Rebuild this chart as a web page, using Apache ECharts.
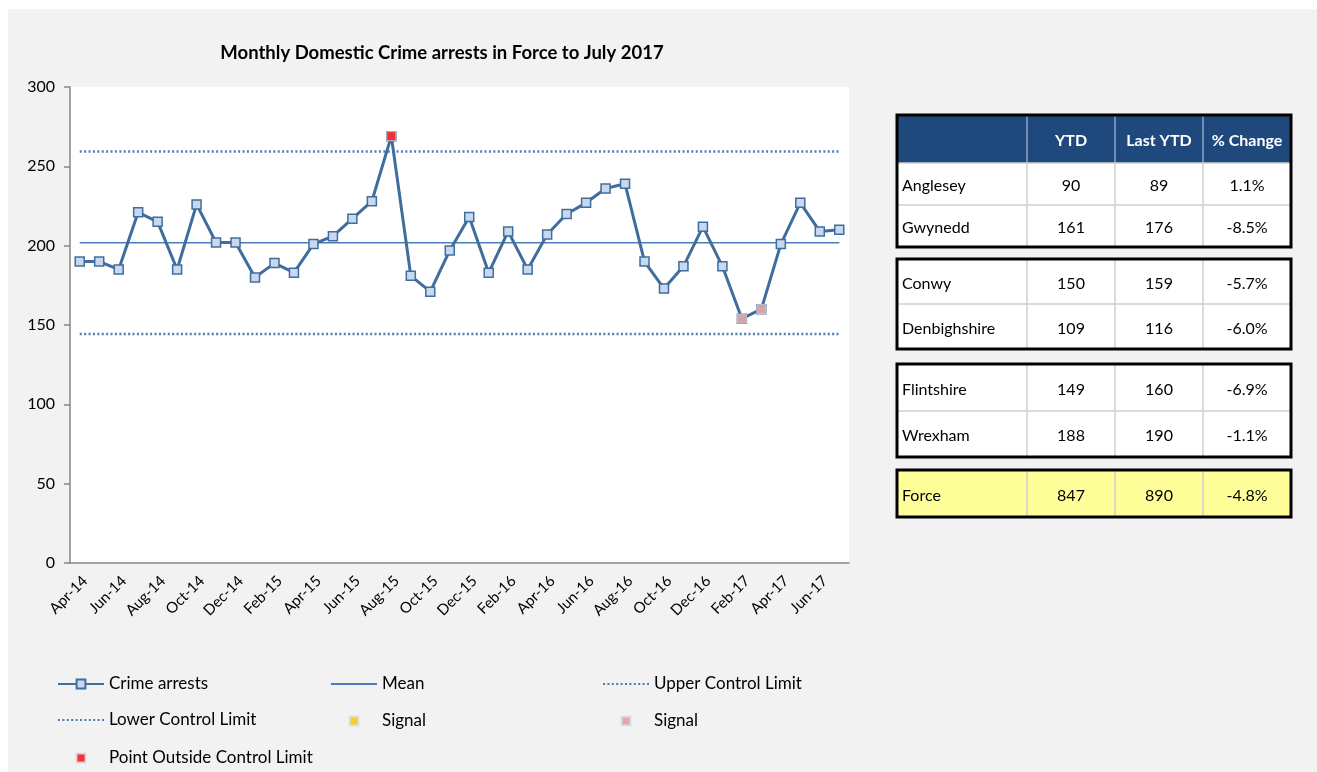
<!DOCTYPE html>
<html><head><meta charset="utf-8">
<script src="https://cdn.jsdelivr.net/npm/echarts@6/dist/echarts.min.js"></script>
<style>html,body{margin:0;padding:0;background:#fff}#c{width:1317px;height:772px}</style>
</head><body><div id="c"></div>
<script>
// ---------- data ----------
const months = ['Apr-14','May-14','Jun-14','Jul-14','Aug-14','Sep-14','Oct-14','Nov-14','Dec-14','Jan-15','Feb-15','Mar-15',
  'Apr-15','May-15','Jun-15','Jul-15','Aug-15','Sep-15','Oct-15','Nov-15','Dec-15','Jan-16','Feb-16','Mar-16',
  'Apr-16','May-16','Jun-16','Jul-16','Aug-16','Sep-16','Oct-16','Nov-16','Dec-16','Jan-17','Feb-17','Mar-17',
  'Apr-17','May-17','Jun-17','Jul-17'];
const crimeArrests = [190,190,185,221,215,185,226,202,202,180,189,183,
  201,206,217,228,269,181,171,197,218,183,209,185,
  207,220,227,236,239,190,173,187,212,187,154,160,
  201,227,209,210];
const meanValue = 201.8;
const upperControlLimit = 259.3;
const lowerControlLimit = 144.3;
const yellowSignalMonths = [];
const pinkSignalMonths = ['Feb-17','Mar-17'];
const outsideLimitMonths = ['Aug-15'];
const yAxisMin = 0, yAxisMax = 300, yAxisStep = 50;

const tableHeader = ['', 'YTD', 'Last YTD', '% Change'];
const regions = ['Anglesey','Gwynedd','Conwy','Denbighshire','Flintshire','Wrexham','Force'];
const ytd = [90,161,150,109,149,188,847];
const lastYtd = [89,176,159,116,160,190,890];
const pctChange = ['1.1%','-8.5%','-5.7%','-6.0%','-6.9%','-1.1%','-4.8%'];

// ---------- helpers ----------
const FONT = 'Lato, "Open Sans", sans-serif';
const pick = (list) => months.map((m, i) => list.includes(m) ? crimeArrests[i] : '-');
const flat = (v) => months.map(() => v);

// ---------- table graphics ----------
const colX = [897, 1027, 1115, 1203, 1291];
const blocks = [
  {top: 115, rows: [{h: 48, header: true}, {h: 42, idx: 0}, {h: 42, idx: 1}]},
  {top: 259, rows: [{h: 45, idx: 2}, {h: 45, idx: 3}]},
  {top: 364, rows: [{h: 47, idx: 4}, {h: 46, idx: 5}]},
  {top: 470, rows: [{h: 47, idx: 6, fill: '#ffff99'}]}
];
const fills = [], lines = [], borders = [], texts = [];
blocks.forEach(b => {
  let y = b.top;
  b.rows.forEach((r, ri) => {
    const fill = r.header ? '#1f497d' : (r.fill || '#ffffff');
    fills.push({type: 'rect', shape: {x: colX[0], y: y, width: colX[4] - colX[0], height: r.h}, style: {fill: fill}, silent: true});
    for (let c = 1; c < 4; c++) {
      lines.push({type: 'line', shape: {x1: colX[c], y1: y, x2: colX[c], y2: y + r.h},
        style: {stroke: r.header ? '#8ea5c4' : '#cfcfcf', lineWidth: 1.5}, silent: true});
    }
    if (ri > 0) {
      lines.push({type: 'line', shape: {x1: colX[0], y1: y, x2: colX[4], y2: y}, style: {stroke: '#cfcfcf', lineWidth: 1.5}, silent: true});
    }
    const cy = y + r.h / 2 + 2;
    if (r.header) {
      for (let c = 1; c < 4; c++) {
        texts.push({type: 'text', x: (colX[c] + colX[c + 1]) / 2, y: cy,
          style: {text: tableHeader[c], fill: '#ffffff', font: 'bold 16px ' + FONT, align: 'center', verticalAlign: 'middle'}, silent: true});
      }
    } else {
      const vals = [regions[r.idx], String(ytd[r.idx]), String(lastYtd[r.idx]), pctChange[r.idx]];
      texts.push({type: 'text', x: colX[0] + 5, y: cy,
        style: {text: vals[0], fill: '#000', font: '16px ' + FONT, align: 'left', verticalAlign: 'middle'}, silent: true});
      for (let c = 1; c < 4; c++) {
        texts.push({type: 'text', x: (colX[c] + colX[c + 1]) / 2, y: cy,
          style: {text: vals[c], fill: '#000', font: '16px ' + FONT, align: 'center', verticalAlign: 'middle'}, silent: true});
      }
    }
    y += r.h;
  });
  borders.push({type: 'rect', shape: {x: colX[0], y: b.top, width: colX[4] - colX[0], height: y - b.top},
    style: {fill: 'none', stroke: '#000', lineWidth: 3}, silent: true});
});

// ---------- chart ----------
const lineColor = '#3f6d9e';
const limitColor = '#4f7bb3';
const legendText = {fontFamily: FONT, fontSize: 17, color: '#000'};
const squareIcon = 'path://M0,0h10v10h-10z';
function legLine(name, left, cy, h, hideSymbol) {
  const o = {data: [name], left: left, top: cy - h / 2, itemWidth: 46, itemHeight: h,
    padding: 0, textStyle: legendText, selectedMode: false};
  if (hideSymbol) o.itemStyle = {opacity: 0};
  return o;
}
function legSquare(name, left, cy, h) {
  // path icon keeps its aspect and is centred in the 46px slot; the legend box starts at the square
  return {data: [{name: name, icon: squareIcon}], left: left + (46 - h) / 2, top: cy - h / 2, itemWidth: 46, itemHeight: h,
    padding: 0, textStyle: legendText, selectedMode: false};
}

const option = {
  backgroundColor: '#f2f2f2',
  animation: false,
  title: {
    text: 'Monthly Domestic Crime arrests in Force to July 2017',
    left: 437, top: 39, textAlign: 'center',
    textStyle: {fontFamily: FONT, fontSize: 18.5, fontWeight: 'bold', color: '#000'}
  },
  grid: {left: 70, top: 87, width: 779, height: 476, show: true, backgroundColor: '#ffffff', borderWidth: 0},
  legend: [
    legLine('Crime arrests', 57, 681, 11, false),
    legLine('Mean', 330, 681, 11, true),
    legLine('Upper Control Limit', 602, 681, 11, true),
    legLine('Lower Control Limit', 57, 717, 11, true),
    legSquare('Signal', 330, 717, 9),
    legSquare('Signal ', 602, 717, 9),
    legSquare('Point Outside Control Limit', 57, 754, 9)
  ],
  xAxis: {
    type: 'category', data: months, boundaryGap: true,
    axisLine: {lineStyle: {color: '#868686', width: 1.5}},
    axisTick: {show: false},
    axisLabel: {interval: 1, rotate: 45, fontFamily: FONT, fontSize: 15, color: '#000', margin: 10, verticalAlign: 'top'}
  },
  yAxis: {
    type: 'value', min: yAxisMin, max: yAxisMax, interval: yAxisStep,
    axisLine: {show: true, lineStyle: {color: '#868686', width: 1.5}},
    axisTick: {show: true, length: 6, lineStyle: {color: '#868686', width: 1.5}},
    splitLine: {show: false},
    axisLabel: {fontFamily: FONT, fontSize: 16, color: '#000', margin: 15}
  },
  series: [
    {name: 'Mean', type: 'line', data: flat(meanValue), symbol: 'none', z: 1,
      lineStyle: {color: '#4a7ebb', width: 1.5}, itemStyle: {color: '#4a7ebb'}},
    {name: 'Upper Control Limit', type: 'line', data: flat(upperControlLimit), symbol: 'none', z: 1,
      lineStyle: {color: limitColor, width: 2.5, type: [2, 2.4]}, itemStyle: {color: limitColor}},
    {name: 'Lower Control Limit', type: 'line', data: flat(lowerControlLimit), symbol: 'none', z: 1,
      lineStyle: {color: limitColor, width: 2.5, type: [2, 2.4]}, itemStyle: {color: limitColor}},
    {name: 'Crime arrests', type: 'line', data: crimeArrests, symbol: 'rect', symbolSize: 9, z: 3,
      lineStyle: {color: lineColor, width: 3},
      itemStyle: {color: '#c8d8ee', borderColor: lineColor, borderWidth: 1.5}},
    {name: 'Signal', type: 'scatter', data: pick(yellowSignalMonths), symbol: 'rect', symbolSize: 9, z: 4,
      itemStyle: {color: '#ffc000', borderColor: '#d6e0ee', borderWidth: 1}},
    {name: 'Signal ', type: 'scatter', data: pick(pinkSignalMonths), symbol: 'rect', symbolSize: 9, z: 4,
      itemStyle: {color: '#d99694', borderColor: '#d6e0ee', borderWidth: 1}},
    {name: 'Point Outside Control Limit', type: 'scatter', data: pick(outsideLimitMonths), symbol: 'rect', symbolSize: 9, z: 4,
      itemStyle: {color: '#ff0000', borderColor: '#d6e0ee', borderWidth: 1}}
  ],
  graphic: [
    {type: 'rect', shape: {x: 0, y: 0, width: 1317, height: 9}, style: {fill: '#ffffff'}, silent: true},
    {type: 'rect', shape: {x: 0, y: 0, width: 8, height: 772}, style: {fill: '#ffffff'}, silent: true}
  ].concat(fills, lines, borders, texts)
};

const chart = echarts.init(document.getElementById('c'));
chart.setOption(option);
</script>
</body></html>
